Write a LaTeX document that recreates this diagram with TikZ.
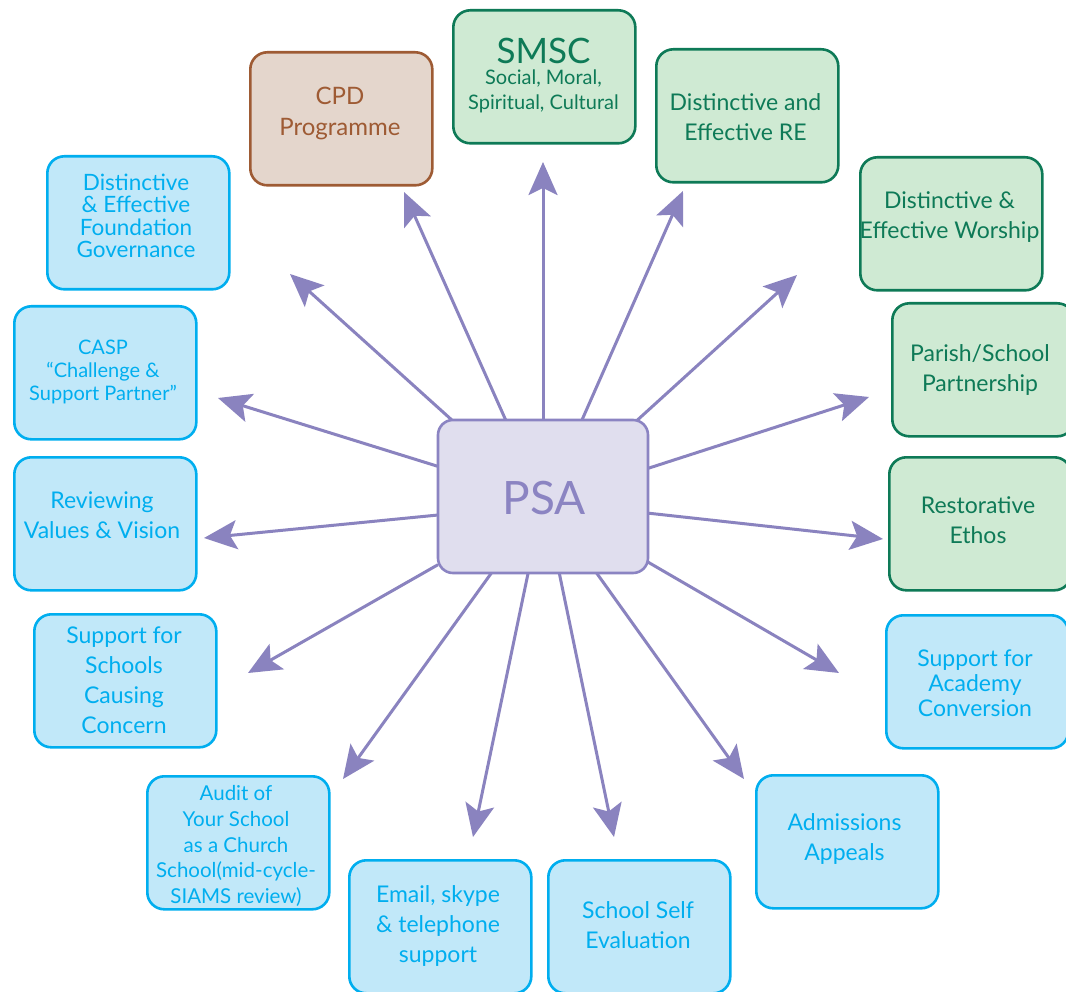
\documentclass[tikz,border=0pt]{standalone}
\usepackage{fontspec}
\setmainfont{Lato}
\usetikzlibrary{arrows.meta}
\definecolor{cyanB}{HTML}{00AEEF}
\definecolor{cyanF}{HTML}{C1E8F9}
\definecolor{greenB}{HTML}{0E7A57}
\definecolor{greenF}{HTML}{CFEAD3}
\definecolor{brownB}{HTML}{9E5B34}
\definecolor{brownF}{HTML}{E4D6CC}
\definecolor{psaB}{HTML}{8B84C2}
\definecolor{psaF}{HTML}{E0DEEE}
\definecolor{arrowC}{HTML}{8A83BF}
\tikzset{
  box/.style={draw, line width=2.6pt, rounded corners=17pt, minimum width=182pt, minimum height=133pt, anchor=north west, inner sep=0pt},
  bluebox/.style={box, draw=cyanB, fill=cyanF},
  greenbox/.style={box, draw=greenB, fill=greenF},
  brownbox/.style={box, draw=brownB, fill=brownF},
  lbl/.style={align=center, inner sep=0pt, font=\fontsize{23}{30}\selectfont},
  bluetxt/.style={lbl, text=cyanB},
  greentxt/.style={lbl, text=greenB},
  browntxt/.style={lbl, text=brownB},
  spoke/.style={draw=arrowC, line width=3pt, -{Stealth[length=33pt, width=29pt, inset=7pt]}}
}
\begin{document}
\begin{tikzpicture}[x=1pt,y=-1pt]
\clip (0,0) rectangle (1066,992);
\fill[white] (0,0) rectangle (1066,992);
% boxes
\node[brownbox] (cpd) at (249,51) {};
\node[greenbox] (smsc) at (452,9) {};
\node[greenbox] (re) at (655,48) {};
\node[greenbox] (wor) at (859,156) {};
\node[greenbox] (par) at (891,302) {};
\node[greenbox] (res) at (888,456) {};
\node[bluebox] (aca) at (885,614) {};
\node[bluebox] (adm) at (755,774) {};
\node[bluebox] (sse) at (547,859) {};
\node[bluebox] (ema) at (348,859) {};
\node[bluebox] (aud) at (146,775) {};
\node[bluebox] (scc) at (33,613) {};
\node[bluebox] (rev) at (13,456) {};
\node[bluebox] (casp) at (13,305) {};
\node[bluebox] (gov) at (46,155) {};
% labels
\node[browntxt, font=\fontsize{24}{31}\selectfont] (cpd-t) at (340,113.5) {CPD\\Programme};
\node[greentxt, font=\fontsize{35}{40}\selectfont] (smsc-t) at (543.5,51) {SMSC};
\node[greentxt, font=\fontsize{20}{24.5}\selectfont] (smsc-s) at (543.5,91.5) {Social, Moral,\\Spiritual, Cultural};
\node[greentxt] (re-t) at (745.5,117) {Distinctive and\\Effective RE};
\node[greentxt] (wor-t) at (949.5,217) {Distinctive \&\\Effective Worship};
\node[greentxt] (par-t) at (980,370) {Parish/School\\Partnership};
\node[greentxt] (res-t) at (978,520.5) {Restorative\\Ethos};
\node[bluetxt, font=\fontsize{23}{25}\selectfont] (aca-t) at (975,683) {Support for\\Academy\\Conversion};
\node[bluetxt] (adm-t) at (844.5,838.5) {Admissions\\Appeals};
\node[bluetxt] (sse-t) at (638,925) {School Self\\Evaluation};
\node[bluetxt] (ema-t) at (438,926) {Email, skype\\\& telephone\\support};
\node[bluetxt, font=\fontsize{20.5}{25.6}\selectfont] (aud-t) at (236,846) {Audit of\\Your School\\as a Church\\School(mid-cycle-\\SIAMS review)};
\node[bluetxt] (scc-t) at (124,680) {Support for\\Schools\\Causing\\Concern};
\node[bluetxt] (rev-t) at (102,515) {Reviewing\\Values \& Vision};
\node[bluetxt, font=\fontsize{20}{22.75}\selectfont] (casp-t) at (103,372) {CASP\\``Challenge \&\\Support Partner''};
\node[bluetxt, font=\fontsize{22.5}{22.5}\selectfont] (gov-t) at (136,216) {Distinctive\\\& Effective\\Foundation\\Governance};
% arrow tips
\coordinate (t1) at (404,192);
\coordinate (t2) at (543,162);
\coordinate (t3) at (683,191);
\coordinate (t4) at (797,275);
\coordinate (t5) at (869,397);
\coordinate (t6) at (883,539);
\coordinate (t7) at (839,673);
\coordinate (t8) at (744,779);
\coordinate (t9) at (614,837);
\coordinate (t10) at (473,837);
\coordinate (t11) at (343,779);
\coordinate (t12) at (248,673);
\coordinate (t13) at (204,538);
\coordinate (t14) at (218,398);
\coordinate (t15) at (290,274);
% PSA
\path (543,496.5) node[minimum width=210pt, minimum height=153pt, inner sep=0pt, outer sep=0pt] (psa) {};
\draw[spoke] (psa.116.1) -- (t1);
\draw[spoke] (psa.90) -- (t2);
\draw[spoke] (psa.63.3) -- (t3);
\draw[spoke] (psa.39.5) -- (t4);
\draw[spoke] (psa.15.6) -- (t5);
\draw[spoke] (psa.-9.9) -- (t6);
\draw[spoke] (psa.-32.9) -- (t7);
\draw[spoke] (psa.-55.1) -- (t8);
\draw[spoke] (psa.-78.3) -- (t9);
\draw[spoke] (psa.-101) -- (t10);
\draw[spoke] (psa.-124.4) -- (t11);
\draw[spoke] (psa.-147.9) -- (t12);
\draw[spoke] (psa.-170.6) -- (t13);
\draw[spoke] (psa.164.4) -- (t14);
\draw[spoke] (psa.140.2) -- (t15);
\draw[draw=psaB, fill=psaF, line width=2.6pt, rounded corners=15pt] (psa.north west) rectangle (psa.south east);
\node[text=psaB, font=\fontsize{46}{50}\selectfont, inner sep=0pt] (psa-t) at (544,498.5) {PSA};
\end{tikzpicture}
\end{document}
